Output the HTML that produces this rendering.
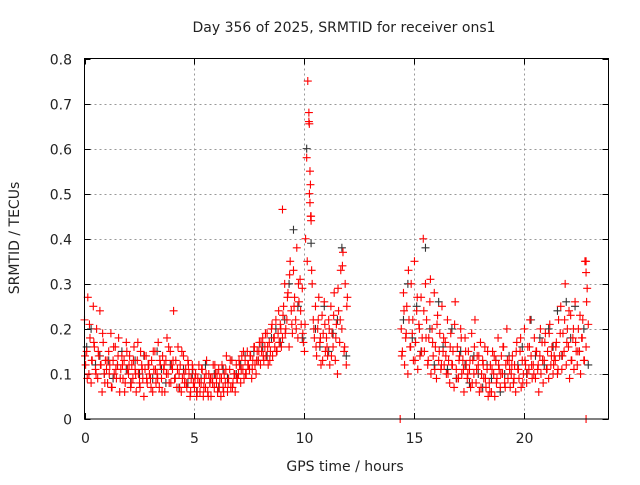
<!DOCTYPE html>
<html><head><meta charset="utf-8"><style>
body{margin:0;background:#fff}
svg text{font-family:"DejaVu Sans","Liberation Sans",sans-serif;font-size:14px;fill:#222}
</style></head><body>
<svg id="chart" width="640" height="480" xmlns="http://www.w3.org/2000/svg">
<text x="344" y="32" text-anchor="middle">Day 356 of 2025, SRMTID for receiver ons1</text>
<text x="345" y="471" text-anchor="middle">GPS time / hours</text>
<text transform="translate(19,238) rotate(-90)" text-anchor="middle">SRMTID / TECUs</text>
<g id="grid"></g>
<g id="axes"></g>
<g id="black" stroke="#333" stroke-width="1.1" fill="none"></g>
<g id="red" stroke="#f00" stroke-width="1.1" fill="none"></g>
<rect x="84.5" y="58.5" width="524" height="360.5" fill="none" stroke="#000"/>
</svg>
<script>
const xTicks=[0,5,10,15,20];
const yTicks=[0,0.1,0.2,0.3,0.4,0.5,0.6,0.7,0.8];
const yTickLabels=["0","0.1","0.2","0.3","0.4","0.5","0.6","0.7","0.8"];
const red1Start=0, red1Step=0.05;
const red1=[.22,.12,.15,.27,.10,.18,.08,.13,.25,.16,.11,.20,.09,.14,.24,.12,.06,.17,.10,.13,
.11,.08,.15,.12,.19,.07,.13,.10,.16,.09,.12,.18,.06,.11,.14,.09,.13,.08,.17,.11,
.10,.14,.07,.12,.09,.16,.11,.06,.13,.10,.08,.15,.12,.09,.05,.11,.14,.08,.12,.10,
.09,.13,.06,.11,.15,.08,.10,.17,.07,.12,.09,.14,.11,.06,.13,.18,.10,.08,.15,.12,
.11,.24,.09,.13,.07,.16,.10,.12,.06,.09,.14,.08,.11,.07,.13,.10,.05,.09,.12,.08,
.07,.10,.05,.09,.12,.06,.08,.11,.05,.09,.07,.13,.06,.10,.08,.05,.09,.12,.07,.10,
.08,.06,.11,.09,.05,.12,.07,.10,.08,.14,.06,.09,.11,.07,.13,.08,.10,.06,.12,.09,
.10,.12,.08,.14,.11,.09,.13,.10,.15,.12,.11,.14,.09,.13,.16,.12,.10,.15,.13,.17,
.12,.15,.18,.13,.16,.14,.19,.12,.17,.15,.20,.14,.18,.16,.22,.15,.19,.17,.21,.16,
.18,.25,.30,.20,.22,.28,.16,.35,.24,.19,.33,.27,.22,.38,.18,.26,.31,.21,.29,.17,
.15,.40,.58,.75,.66,.48,.45,.30,.22,.18,.25,.14,.20,.27,.17,.12,.23,.19,.26,.15,
.18,.14,.22,.12,.25,.19,.16,.28,.13,.21,.10,.24,.17,.33,.20,.37,.15,.30,.12,.27];
const red3Start=0.025, red3Step=0.1;
const red3=[.14,.09,.21,.13,.17,.10,.15,.12,.19,.08,
.13,.10,.07,.16,.11,.14,.09,.12,.06,.15,
.12,.08,.13,.10,.17,.07,.11,.14,.09,.12,
.07,.15,.11,.09,.13,.06,.12,.10,.16,.08,
.13,.09,.11,.07,.15,.10,.08,.12,.06,.11,
.09,.06,.08,.11,.07,.10,.05,.09,.08,.12,
.10,.07,.09,.06,.11,.08,.13,.07,.10,.09,
.13,.11,.15,.10,.12,.14,.11,.16,.13,.15,
.17,.14,.19,.16,.13,.21,.18,.15,.24,.20,
.23,.19,.27,.32,.21,.25,.20,.30,.24,.19,
.21,.35,.50,.33,.20,.16,.22,.18,.13,.21,
.16,.20,.14,.23,.18,.29,.22,.34,.16,.25];
const red2Start=14.4, red2Step=0.05;
const red2=[.20,.15,.28,.12,.18,.25,.10,.22,.16,.30,.19,.13,.35,.17,.24,.11,.21,.14,.27,.18,
.40,.15,.30,.22,.12,.18,.26,.10,.20,.14,.28,.16,.09,.23,.13,.19,.11,.25,.15,.12,
.17,.10,.22,.13,.08,.19,.12,.15,.07,.26,.11,.16,.09,.14,.20,.10,.13,.06,.18,.12,
.09,.15,.11,.07,.19,.13,.10,.22,.08,.14,.12,.06,.17,.10,.13,.09,.16,.07,.11,.05,
.08,.12,.06,.15,.10,.05,.13,.09,.18,.11,.07,.14,.10,.16,.08,.12,.20,.09,.13,.07,
.10,.14,.08,.12,.06,.17,.11,.09,.15,.07,.13,.10,.20,.12,.08,.16,.11,.22,.14,.09,
.12,.18,.09,.15,.11,.06,.14,.10,.17,.08,.13,.19,.11,.15,.09,.21,.12,.16,.10,.14,
.13,.17,.10,.22,.14,.25,.11,.19,.15,.30,.12,.20,.16,.09,.23,.13,.18,.11,.26,.15,
.12,.20,.15,.10,.18,.22,.13,.35,.16,.29,.21];
const red4Start=14.425, red4Step=0.1;
const red4=[.14,.24,.19,.33,.16,.22,.13,.27,.20,.15,
.24,.18,.13,.31,.17,.11,.21,.15,.12,.18,
.14,.10,.16,.12,.21,.09,.13,.18,.11,.15,
.10,.13,.08,.16,.11,.14,.07,.12,.09,.15,
.06,.11,.14,.08,.12,.10,.16,.07,.13,.11,
.12,.09,.15,.11,.18,.08,.13,.10,.16,.12,
.10,.15,.12,.20,.13,.17,.11,.19,.14,.12,
.16,.11,.19,.14,.22,.17,.24,.13,.20,.17,
.15,.23,.18,.13,.26];
const redExtraT=[10.2,10.22,10.25,10.28,10.3,9.0,10.27,22.8,22.8,14.35,22.8];
const redExtraV=[.68,.655,.55,.45,.44,.465,.52,.35,.325,0.0,0.0];
const black1Start=0, black1Step=0.2;
const black1=[.16,.20,.12,.14,.10,.13,.09,.12,.15,.11,.08,.13,.10,.14,.12,.09,.15,.11,.08,.12,.09,.07,.11,.08,.10,.06,.09,.12,.08,.10,.07,.11,.09,.13,.10,.12,.14,.11,.15,.13,.16,.14,.18,.20,.17,.22,.30,.42,.25,.18,.60,.39,.20,.16,.25,.15,.19,.22,.38,.14];
const black2Start=14.4, black2Step=0.2;
const black2=[.22,.30,.18,.25,.15,.38,.20,.12,.26,.16,.11,.20,.09,.15,.12,.08,.14,.10,.07,.12,.09,.13,.06,.10,.14,.08,.12,.16,.10,.22,.14,.18,.12,.20,.16,.24,.14,.26,.18,.25,.15,.20,.12];

const X0=84.5,X1=608.5,XMAX=23.82,Y0=419,Y1=58.5,YMAX=0.8;
const sx=t=>X0+(X1-X0)*t/XMAX;
const sy=v=>Y0-(Y0-Y1)*v/YMAX;
const NS="http://www.w3.org/2000/svg";
function mk(tag,attrs,parent){const e=document.createElementNS(NS,tag);for(const k in attrs)e.setAttribute(k,attrs[k]);parent.appendChild(e);return e;}
const grid=document.getElementById('grid'),axes=document.getElementById('axes');
xTicks.forEach(t=>{const x=Math.round(sx(t))+0.5;
 if(t>0){const l=mk('line',{x1:x,x2:x,y1:Y1,y2:Y0,stroke:'#999','stroke-dasharray':'2,3'},grid);
 
 }
 mk('line',{x1:x,x2:x,y1:Y0,y2:Y0-6,stroke:'#000'},axes);
 mk('line',{x1:x,x2:x,y1:Y1,y2:Y1+6,stroke:'#000'},axes);
 const tx=mk('text',{x:x,y:443,'text-anchor':'middle'},axes);tx.textContent=t;
 
 
});
yTicks.forEach((v,i)=>{const y=Math.round(sy(v))+0.5;
 if(i>0&&i<yTicks.length-1){const l=mk('line',{x1:X0,x2:X1,y1:y,y2:y,stroke:'#999','stroke-dasharray':'2,3'},grid);
 
 }
 mk('line',{x1:X0,x2:X0+6,y1:y,y2:y,stroke:'#000'},axes);
 mk('line',{x1:X1,x2:X1-6,y1:y,y2:y,stroke:'#000'},axes);
 const tx=mk('text',{x:72,y:y+5,'text-anchor':'end'},axes);tx.textContent=yTickLabels[i];
 
 
});
function plus(g,t,v){const x=sx(t),y=sy(v);
 const p=mk('path',{d:`M${x-4} ${y}h8M${x} ${y-4}v8`},g);
 
 }
const gb=document.getElementById('black'),gr=document.getElementById('red');
black1.forEach((v,i)=>plus(gb,black1Start+i*black1Step+0.1,v));
black2.forEach((v,i)=>plus(gb,black2Start+i*black2Step+0.1,v));
red1.forEach((v,i)=>plus(gr,red1Start+i*red1Step,v));
red3.forEach((v,i)=>plus(gr,red3Start+i*red3Step,v));
red2.forEach((v,i)=>plus(gr,red2Start+i*red2Step,v));
red4.forEach((v,i)=>plus(gr,red4Start+i*red4Step,v));
redExtraT.forEach((t,i)=>plus(gr,t,redExtraV[i]));
</script>
</body></html>
